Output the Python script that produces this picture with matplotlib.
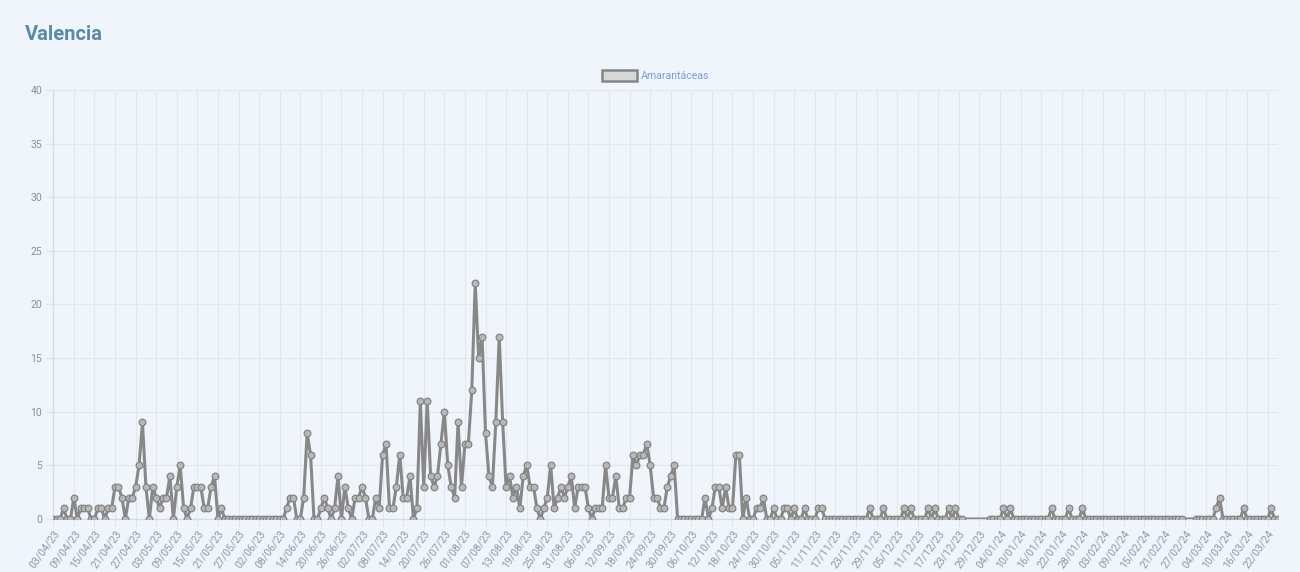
import matplotlib
matplotlib.use('Agg')
import matplotlib.pyplot as plt
import numpy as np
import pandas as pd

plt.rcParams['font.family'] = ['Roboto', 'DejaVu Sans']

# days from 03/04/23 to 25/03/24, one value per day (None = no data)
start_date = '2023-04-03'
n_days = 358
title = 'Valencia'
series_name = 'Amarantáceas'

values = (
    [0, 0, 0, 1, 0, 0, 2, 0, 1, 1, 1, 0, 0, 1, 1, 0, 1, 1, 3, 3,
     2, 0, 2, 2, 3, 5, 9, 3, 0, 3, 2, 1, 2, 2, 4, 0, 3, 5, 1, 0,
     1, 3, 3, 3, 1, 1, 3, 4, 0, 1]
    + [0] * 18
    + [1, 2, 2, 0, 0, 2, 8, 6, 0, 0, 1, 2, 1, 0, 1, 4, 0, 3, 1, 0,
       2, 2, 3, 2, 0, 0, 2, 1, 6, 7, 1, 1, 3, 6, 2, 2, 4, 0, 1, 11,
       3, 11, 4, 3, 4, 7, 10, 5, 3, 2, 9, 3, 7, 7, 12, 22, 15, 17, 8, 4,
       3, 9, 17, 9, 3, 4, 2, 3, 1, 4, 5, 3, 3, 1, 0, 1, 2, 5, 1, 2,
       3, 2, 3, 4, 1, 3, 3, 3, 1, 0, 1, 1, 1, 5, 2, 2, 4, 1, 1, 2,
       2, 6, 5, 6, 6, 7, 5, 2, 2, 1, 1, 3, 4, 5]
    + [0] * 8
    + [2, 0, 1, 3, 3, 1, 3, 1, 1, 6, 6, 0, 2, 0, 0, 1, 1, 2, 0, 0,
       1, 0, 0, 1, 1, 0, 1, 0, 0, 1, 0, 0, 0, 1, 1]
    + [0] * 13
    + [1, 0, 0, 0, 1, 0, 0, 0, 0, 0, 1, 0, 1, 0, 0, 0, 0, 1, 0, 1,
       0, 0, 0, 1, 0, 1, 0, 0]
    + [None] * 7
    + [0, 0, 0, 0, 1, 0, 1]
    + [0] * 11
    + [1, 0, 0, 0, 0, 1, 0, 0, 0, 1]
    + [0] * 29
    + [None] * 3
    + [0, 0, 0, 0, 0, 0, 1, 2, 0, 0, 0, 0, 0, 0, 1, 0, 0, 0, 0, 0,
       0, 0, 1, 0, 0]
)

dates = pd.date_range(start_date, periods=n_days)
labels = [d.strftime('%d/%m/%y') for d in dates]

x = np.arange(len(values))
y = np.array([np.nan if v is None else v for v in values], dtype=float)
ok = ~np.isnan(y)

bg = '#f0f5fc'
fig = plt.figure(figsize=(13, 5.72), dpi=100, facecolor=bg)
ax = fig.add_axes([0.041, 0.0927, 0.942, 0.75])
ax.set_facecolor(bg)

ax.plot(x[ok], y[ok], color='#888888', lw=2.2, marker='o', markersize=4.8,
        markerfacecolor='#b8b8b8', markeredgecolor='#848484', markeredgewidth=0.9,
        zorder=3, label=series_name)

ax.set_xlim(0, len(values) - 1)
ax.set_ylim(0, 40)
ax.set_yticks(range(0, 41, 5))
tick_idx = list(range(0, len(values), 6))
ax.set_xticks(tick_idx)
ax.set_xticklabels([labels[i] for i in tick_idx], rotation=54, ha='right',
                   rotation_mode='anchor', fontsize=7.6, color='#8d98ab')
ax.tick_params(axis='y', labelsize=7.6, colors='#8a8f99', length=5, width=0.8,
               pad=3)
ax.tick_params(axis='x', length=5, width=0.8, color='#dde3ec', pad=2)
ax.tick_params(axis='y', color='#dde3ec')
ax.grid(True, color='#e2e7ef', lw=0.8)
ax.set_axisbelow(True)
for s in ['top', 'right']:
    ax.spines[s].set_visible(False)
for s in ['left', 'bottom']:
    ax.spines[s].set_color('#d5dbe5')
    ax.spines[s].set_linewidth(0.9)

fig.text(0.019, 0.94, title, fontsize=14.5, fontweight='bold', color='#5b8aa5',
         va='center', ha='left')

# legend box like Chart.js
fig.patches.append(plt.Rectangle((602 / 1300, 1 - 81 / 572), 35 / 1300, 11 / 572,
                                 transform=fig.transFigure, facecolor='#d8d8d8',
                                 edgecolor='#858585', lw=1.8))
fig.text(641 / 1300, 1 - 76 / 572, series_name, fontsize=7.6, color='#7d9bcf',
         va='center', ha='left')

fig.savefig('out.png', dpi=100, facecolor=bg)
